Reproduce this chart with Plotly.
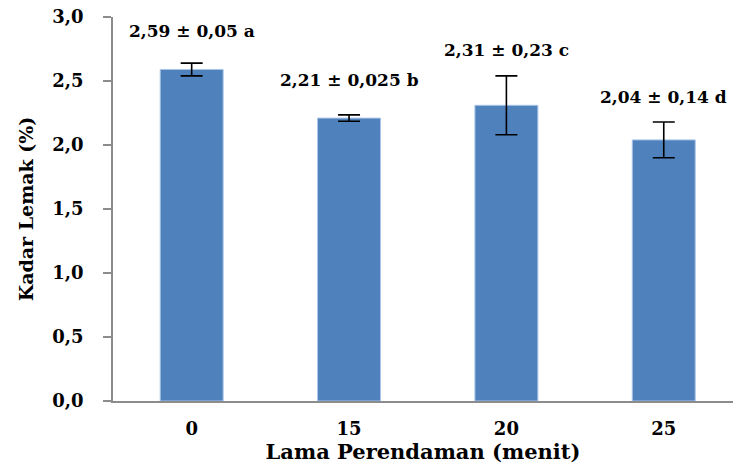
import plotly.graph_objects as go

# Kadar lemak per lama perendaman
categories = ["0", "15", "20", "25"]
means = [2.59, 2.21, 2.31, 2.04]
sds = [0.05, 0.025, 0.23, 0.14]
letters = ["a", "b", "c", "d"]
y_ticks = [0.0, 0.5, 1.0, 1.5, 2.0, 2.5, 3.0]
y_tick_text = ["0,0", "0,5", "1,0", "1,5", "2,0", "2,5", "3,0"]

def fmt(v):
    s = f"{v:.3f}".rstrip("0")
    if len(s.split(".")[1]) < 2:
        s = f"{v:.2f}"
    return s.replace(".", ",")

labels = [f"{fmt(m)} ± {fmt(s)} {l}" for m, s, l in zip(means, sds, letters)]

FONT = "DejaVu Serif"

fig = go.Figure()
fig.add_trace(go.Bar(
    x=categories,
    y=means,
    width=0.4,
    marker=dict(color="#4F81BD", line=dict(color="#A9C4E6", width=1)),
    error_y=dict(type="data", array=sds, visible=True,
                 color="black", thickness=1.6, width=11),
))

# label offsets above the error-bar caps (px)
label_shift = [20, 23, 14, 13]
for i, (m, s, t, dy) in enumerate(zip(means, sds, labels, label_shift)):
    fig.add_annotation(x=i, y=m + s, text=f"<b>{t}</b>", showarrow=False,
                       yanchor="bottom", yshift=dy,
                       font=dict(family=FONT, size=17, color="black"))

fig.update_layout(
    width=733, height=472,
    margin=dict(l=113, r=0, t=17, b=71),
    paper_bgcolor="white", plot_bgcolor="white",
    showlegend=False,
    font=dict(family=FONT, color="black"),
)
fig.update_xaxes(
    type="category", range=[-0.5, 3.44],
    showline=True, linecolor="#8C8C8C", linewidth=1.5,
    ticks="", showgrid=False,
    tickfont=dict(family=FONT, size=18),
    ticklabelstandoff=11,
    tickprefix="<b>", ticksuffix="</b>",
    title=dict(text="<b>Lama Perendaman (menit)</b>", standoff=6,
               font=dict(family=FONT, size=21)),
)
fig.update_yaxes(
    range=[0, 3], tickvals=y_ticks,
    ticktext=[f"<b>{t}</b>" for t in y_tick_text],
    showline=True, linecolor="#8C8C8C", linewidth=1.5,
    ticks="outside", ticklen=8, tickcolor="#8C8C8C", tickwidth=1.5,
    showgrid=False, zeroline=False,
    tickfont=dict(family=FONT, size=18),
    ticklabelstandoff=16,
    title=dict(text="<b>Kadar Lemak (%)</b>", standoff=14,
               font=dict(family=FONT, size=19)),
)

fig.write_html("out.html")
